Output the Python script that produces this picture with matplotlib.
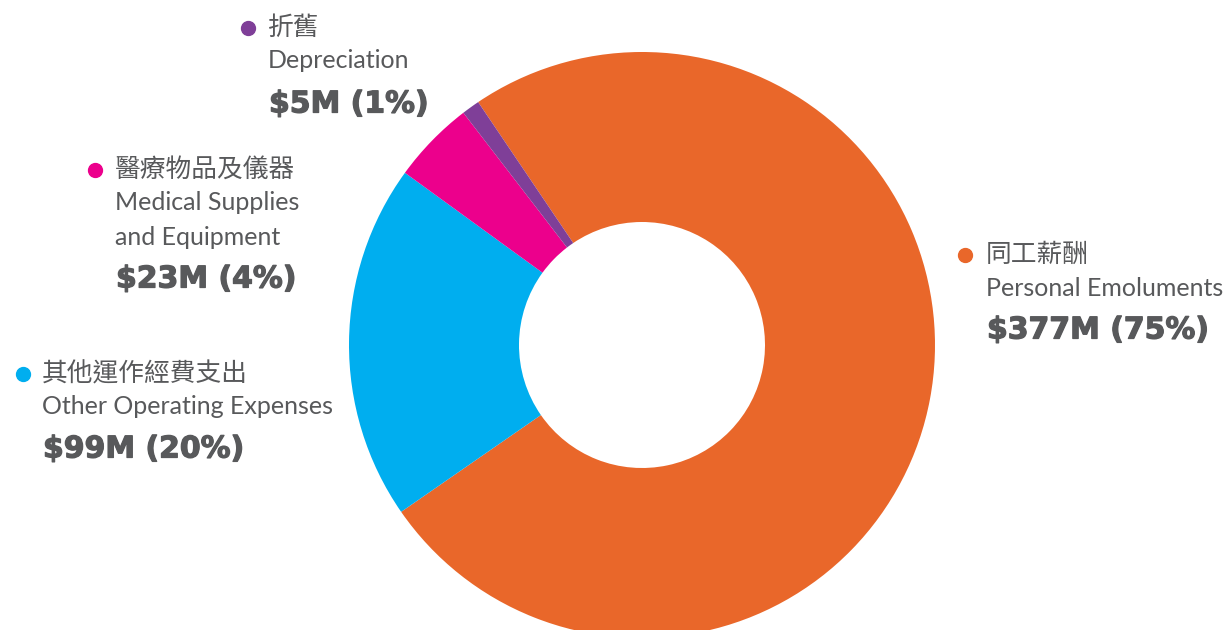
import matplotlib
matplotlib.use("Agg")
import matplotlib.pyplot as plt
import matplotlib.patheffects as pe

# datos del gráfico (millones)
nombres_zh = ["同工薪酬", "其他運作經費支出", "醫療物品及儀器", "折舊"]
nombres_en = ["Personal Emoluments", "Other Operating Expenses",
              "Medical Supplies\nand Equipment", "Depreciation"]
montos = [377, 99, 23, 5]
porcentajes = [75, 20, 4, 1]
colores = ["#e9672a", "#00aeef", "#ec008c", "#7f3f98"]

gris = "#58595b"
fuente_en = ["Lato", "Noto Sans CJK TC"]
fuente_zh = ["Noto Sans CJK TC", "DejaVu Sans"]

fig = plt.figure(figsize=(12.29, 6.30), dpi=100)
ax = fig.add_axes([0, 0, 1, 1])
ax.set_xlim(0, 1229)
ax.set_ylim(0, 630)
ax.axis("off")

# dona
ax.pie(montos, colors=colores, center=(642, 285), radius=293,
       startangle=124, counterclock=False,
       wedgeprops=dict(width=170, linewidth=0))
ax.set_xlim(0, 1229)
ax.set_ylim(0, 630)

# posiciones de las etiquetas (punto, x texto, y de cada linea)
pos = [
    (965, 986, [375, 341, 300]),
    (23, 42, [256, 223, 181]),
    (95, 115, [460, 410, 351]),
    (248, 268, [602, 569, 526]),
]

grueso = [pe.withStroke(linewidth=0.9, foreground=gris)]

for i in range(len(montos)):
    xp, xt, ys = pos[i]
    ax.plot(xp, ys[0], "o", color=colores[i], markersize=10)
    ax.text(xt, ys[0], nombres_zh[i], family=fuente_zh, fontsize=18.5,
            color=gris, va="center", ha="left")
    ax.text(xt, ys[1], nombres_en[i], family=fuente_en, fontsize=18,
            color=gris, va="center", ha="left", linespacing=1.6)
    ax.text(xt + 1, ys[2], "$%dM (%d%%)" % (montos[i], porcentajes[i]),
            family="DejaVu Sans", fontsize=21.5, fontweight="bold",
            color=gris, va="center", ha="left", path_effects=grueso)

fig.savefig("out.png", dpi=100)
